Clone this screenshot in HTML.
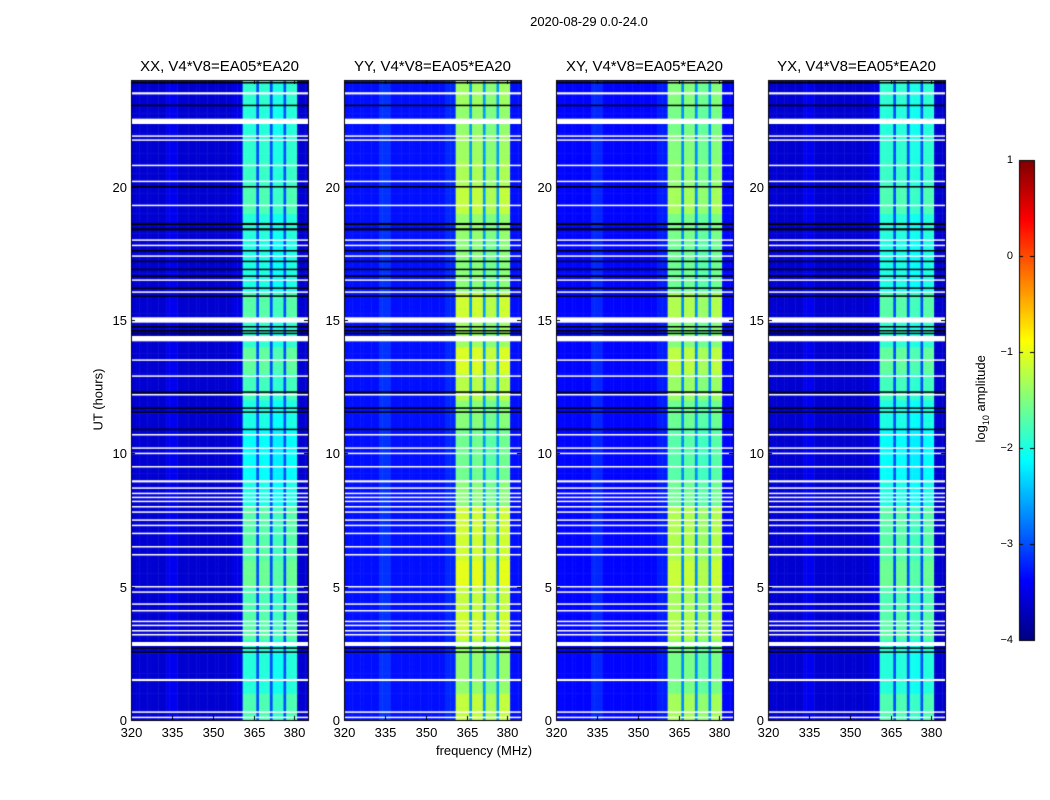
<!DOCTYPE html>
<html><head><meta charset="utf-8"><style>
body{margin:0;background:#fff;font-family:"Liberation Sans",sans-serif;}
#wrap{position:relative;width:1050px;height:800px;overflow:hidden;}
canvas{position:absolute;left:0;top:0;}
.t{position:absolute;color:#000;white-space:nowrap;}
</style></head><body>
<div id="wrap">
<canvas id="c" width="1050" height="800"></canvas>
<div class="t" style="left:489px;top:14px;width:200px;text-align:center;font-size:13px;">2020-08-29 0.0-24.0</div>
<div class="t" style="left:384px;top:743px;width:200px;text-align:center;font-size:13px;">frequency (MHz)</div>
<div class="t" style="left:48px;top:392px;width:100px;text-align:center;font-size:13px;transform:rotate(-90deg);">UT (hours)</div>
<div class="t" style="left:922px;top:390px;width:120px;text-align:center;font-size:13px;transform:rotate(-90deg);">log<sub style="font-size:9px">10</sub> amplitude</div>
<div id="labels"></div>
</div>
<script>
const panelNames=["XX","YY","XY","YX"];
const panelBase=[-3.6,-3.3,-3.35,-3.6];
const panelGain=[1.0,1.15,1.1,1.0];
// channel profile, 1 MHz channels starting 320
const chanStart=[320,333,337,357,361,366,367,371,372,376,377,381];
const chanLevel=[0,0.15,0,0.1,1.6,0.6,1.6,0.6,1.5,0.6,1.6,0];
// hourly band modulation 0..23
const hourMod=[0.25,0.05,0.05,0.3,0.25,0.4,0.3,0.3,0.0,-0.1,-0.1,0.0,0.2,0.35,0.1,0.3,0.0,0.0,0.05,0.25,0.15,0.1,0.05,0.1];
const whiteRows=[[23.5,0.08],[22.45,0.2],[21.9,0.05],[21.75,0.05],[20.8,0.05],[20.2,0.05],[19.3,0.05],[18.0,0.05],[17.8,0.05],[17.4,0.05],[16.5,0.05],[16.05,0.05],[15.0,0.2],[14.3,0.2],[13.5,0.05],[12.9,0.05],[12.2,0.05],[10.7,0.05],[10.2,0.05],[10.0,0.05],[9.5,0.05],[8.95,0.08],[8.7,0.05],[8.5,0.05],[8.35,0.05],[8.2,0.05],[8.0,0.05],[7.8,0.05],[7.5,0.05],[7.3,0.05],[7.0,0.05],[6.5,0.05],[6.2,0.05],[5.0,0.05],[4.8,0.05],[4.35,0.05],[4.1,0.05],[3.7,0.05],[3.55,0.05],[3.35,0.05],[3.2,0.05],[2.85,0.15],[1.5,0.08],[0.3,0.05],[0.1,0.05]];
const blackRows=[[23.9,0.05],[23.05,0.05],[20.0,0.05],[18.6,0.08],[18.4,0.08],[17.6,0.05],[17.2,0.05],[16.9,0.05],[16.65,0.05],[16.2,0.05],[15.9,0.05],[14.75,0.05],[14.6,0.05],[14.5,0.05],[12.3,0.05],[11.7,0.05],[11.55,0.05],[10.9,0.05],[2.7,0.05],[2.55,0.05]];
const xTicks=[320,335,350,365,380];
const yTicks=[0,5,10,15,20];
const cbTicks=[1,0,-1,-2,-3,-4];

const panelLeft=[131,344,556,768],pW=177,pTop=80,pBot=720;
const fMin=320,fMax=385,tMin=0,tMax=24;
const c=document.getElementById('c'),g=c.getContext('2d');
function jet(v){let t=(v+4)/5;t=Math.max(0,Math.min(1,t));
 const cl=x=>Math.round(255*Math.max(0,Math.min(1,x)));
 return `rgb(${cl(1.5-Math.abs(4*t-3))},${cl(1.5-Math.abs(4*t-2))},${cl(1.5-Math.abs(4*t-1))})`;}
function chanVal(f){let v=0;for(let i=0;i<chanStart.length;i++)if(f>=chanStart[i])v=chanLevel[i];return v;}
const labels=document.getElementById('labels');
function lab(txt,x,y,w,al,fs,name){const d=document.createElement('div');d.className='t';d.textContent=txt;
 d.style.left=x+'px';d.style.top=y+'px';d.style.width=w+'px';d.style.textAlign=al;d.style.fontSize=fs+'px';
 
 
 labels.appendChild(d);}
panelNames.forEach((nm,p)=>{
 const L=panelLeft[p];
 const xs=f=>L+(f-fMin)/(fMax-fMin)*pW;
 const ys=t=>pBot-(t-tMin)/(tMax-tMin)*(pBot-pTop);
 const dt=0.25;
 for(let t=0;t<24;t+=dt){
  for(let f=fMin;f<fMax;f++){
   const cv=chanVal(f);
   let v=panelBase[p]+cv*panelGain[p];
   if(cv>1)v+=hourMod[Math.floor(t)]*panelGain[p];
   g.fillStyle=jet(v);
   const x0=xs(f),x1=xs(f+1),y0=ys(t+dt),y1=ys(t);
   g.fillRect(x0,y0,x1-x0+0.5,y1-y0+0.5);
  }
 }
 g.fillStyle='#000';
 blackRows.forEach(r=>{g.fillRect(L,ys(r[0]+r[1]/2),pW,Math.max(1.5,r[1]*26.67));});
 g.fillStyle='#fff';
 whiteRows.forEach(r=>{g.fillRect(L,ys(r[0]+r[1]/2),pW,Math.max(1.5,r[1]*26.67));});
 g.strokeStyle='#000';g.lineWidth=1;g.strokeRect(L+0.5,pTop+0.5,pW,pBot-pTop);
 xTicks.forEach(f=>{const x=Math.round(xs(f))+0.5;g.beginPath();g.moveTo(x,pBot);g.lineTo(x,pBot-4);g.moveTo(x,pTop);g.lineTo(x,pTop+4);g.stroke();
  lab(String(f),x-20,725,40,'center',13,'x-tick-label');});
 yTicks.forEach(t=>{const y=Math.round(ys(t))+0.5;g.beginPath();g.moveTo(L,y);g.lineTo(L+4,y);g.moveTo(L+pW,y);g.lineTo(L+pW-4,y);g.stroke();
  lab(String(t),L-44,y-8,40,'right',13,'y-tick-label');});
 lab(nm+", V4*V8=EA05*EA20",L-20,58,pW+40,'center',15,'panel-title-'+nm.toLowerCase());
});
// colorbar
const cbL=1019,cbW=15,cbT=160,cbB=640;
for(let y=cbT;y<cbB;y++){const v=1-(y-cbT)/(cbB-cbT)*5;g.fillStyle=jet(v);g.fillRect(cbL,y,cbW,1);}
g.strokeStyle='#000';g.strokeRect(cbL+0.5,cbT+0.5,cbW,cbB-cbT);
cbTicks.forEach(v=>{const y=Math.round(cbT+(1-v)/5*(cbB-cbT))+0.5;g.beginPath();g.moveTo(cbL,y);g.lineTo(cbL+4,y);g.moveTo(cbL+cbW,y);g.lineTo(cbL+cbW-4,y);g.stroke();
 lab(v<0?'\u2212'+(-v):String(v),cbL-30,y-7,24,'right',11,'colorbar-tick-label');});
</script>
</body></html>
